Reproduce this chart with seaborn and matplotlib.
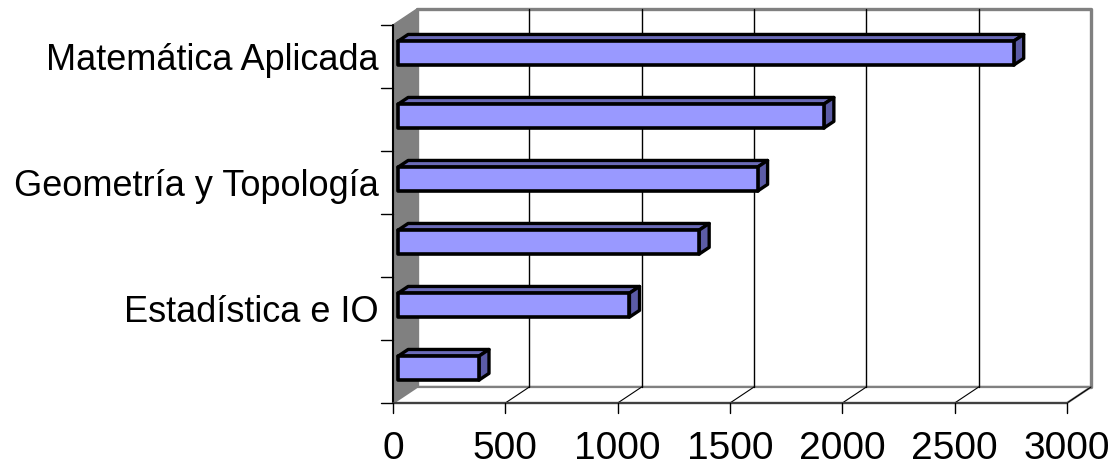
import matplotlib
matplotlib.use("Agg")
import matplotlib.pyplot as plt
import seaborn as sns
import pandas as pd
from matplotlib.patches import Polygon
from matplotlib.transforms import IdentityTransform

categories = ["Matemática Aplicada", "Cat 2", "Geometría y Topología", "Cat 4",
              "Estadística e IO", "Cat 6"]
tick_labels = ["Matemática Aplicada", "", "Geometría y Topología", "", "Estadística e IO", ""]
values = [2740, 1895, 1600, 1340, 1030, 360]
xticks = [0, 500, 1000, 1500, 2000, 2500, 3000]

W, H, DPI = 1113, 467, 100
sns.set_style("white")
plt.rcParams['font.family'] = ['Liberation Sans', 'DejaVu Sans']
plt.rcParams['text.color'] = 'black'
plt.rcParams['xtick.color'] = 'black'
plt.rcParams['ytick.color'] = 'black'
plt.rcParams['xtick.labelcolor'] = 'black'
plt.rcParams['ytick.labelcolor'] = 'black'

fig = plt.figure(figsize=(W / DPI, H / DPI), dpi=DPI)
# front plane of the 3D box (pixels)
fx0, fx1, fy_top, fy_bot = 393, 1067, 25, 403
ax = fig.add_axes([fx0 / W, 1 - fy_bot / H, (fx1 - fx0) / W, (fy_bot - fy_top) / H])
ax.set_xlim(0, 3000)
ax.set_ylim(5.5, -0.5)

DX, DY = 24, 16  # full depth offset in pixels (right, up)

df = pd.DataFrame({"cat": categories, "val": values})
sns.barplot(data=df, x="val", y="cat", orient="h", ax=ax, width=0.38,
            color="#9999FF", saturation=1, edgecolor="black", linewidth=2.2, zorder=5)

ax.set_xlim(0, 3000)
ax.set_ylim(5.5, -0.5)
for s in ax.spines.values():
    s.set_visible(False)
ax.set_xlabel("")
ax.set_ylabel("")
ax.set_xticks(xticks)
ax.set_xticklabels([str(t) for t in xticks], fontsize=28, color="black")
ax.set_yticks(range(len(categories)))
ax.set_yticklabels(tick_labels, fontsize=26, color="black")
ax.tick_params(axis="x", length=0, pad=20)
ax.tick_params(axis="y", length=0, pad=10)
ax.patch.set_visible(False)

fig.canvas.draw()
T = ax.transData


def P(v, c, d):
    x, y = T.transform((v, c))
    return (x + d * DX, y + d * DY)


def add_poly(pts, fc, ec, lw, z, closed=True):
    p = Polygon(pts, closed=closed, facecolor=fc, edgecolor=ec, linewidth=lw,
                transform=IdentityTransform(), zorder=z, joinstyle="round")
    fig.add_artist(p)


def add_line(pts, color, lw, z):
    xs = [p[0] for p in pts]
    ys = [p[1] for p in pts]
    fig.add_artist(plt.Line2D(xs, ys, color=color, linewidth=lw,
                              transform=IdentityTransform(), zorder=z))


grey = "#808080"
# back wall
add_poly([P(0, -0.5, 1), P(3000, -0.5, 1), P(3000, 5.5, 1), P(0, 5.5, 1)],
         "white", grey, 2.4, 0.5)
# left side wall
add_poly([P(0, -0.5, 0), P(0, -0.5, 1), P(0, 5.5, 1), P(0, 5.5, 0)],
         grey, grey, 1, 0.6)
# floor
add_poly([P(0, 5.5, 0), P(3000, 5.5, 0), P(3000, 5.5, 1), P(0, 5.5, 1)],
         "white", grey, 1.6, 0.6)
# gridlines on back wall + floor
for t in xticks[1:-1]:
    add_line([P(t, -0.5, 1), P(t, 5.5, 1)], "black", 1.0, 0.7)
for t in xticks[1:]:
    add_line([P(t, 5.5, 0), P(t, 5.5, 1)], "black", 0.8, 0.7)
# front axes lines and ticks
add_line([P(0, -0.5, 0), P(0, 5.5, 0)], "black", 1.5, 3)
add_line([P(0, 5.5, 0), P(3000, 5.5, 0)], "#404040", 1.6, 3)
for t in xticks:
    x, y = P(t, 5.5, 0)
    add_line([(x, y), (x, y - 10)], "black", 1.0, 3)
for i in range(len(categories) + 1):
    x, y = P(0, i - 0.5, 0)
    add_line([(x - 12, y), (x, y)], "black", 1.0, 3)

# 3D bars: shift front face into depth, add top and side faces
d0, d1 = 0.21, 0.63
for bar in ax.patches:
    x0, y0 = bar.get_x(), bar.get_y()
    w, h = bar.get_width(), bar.get_height()
    ytop, ybot = y0, y0 + h
    front = [P(x0, ytop, d0), P(x0 + w, ytop, d0), P(x0 + w, ybot, d0), P(x0, ybot, d0)]
    top = [P(x0, ytop, d0), P(x0 + w, ytop, d0), P(x0 + w, ytop, d1), P(x0, ytop, d1)]
    side = [P(x0 + w, ytop, d0), P(x0 + w, ytop, d1), P(x0 + w, ybot, d1), P(x0 + w, ybot, d0)]
    add_poly(top, "#6B6BB8", "black", 2.4, 6)
    add_poly(side, "#5C5CA6", "black", 2.4, 6)
    add_poly(front, bar.get_facecolor(), "black", 2.6, 7)
    bar.set_visible(False)

fig.savefig("out.png", dpi=DPI)
